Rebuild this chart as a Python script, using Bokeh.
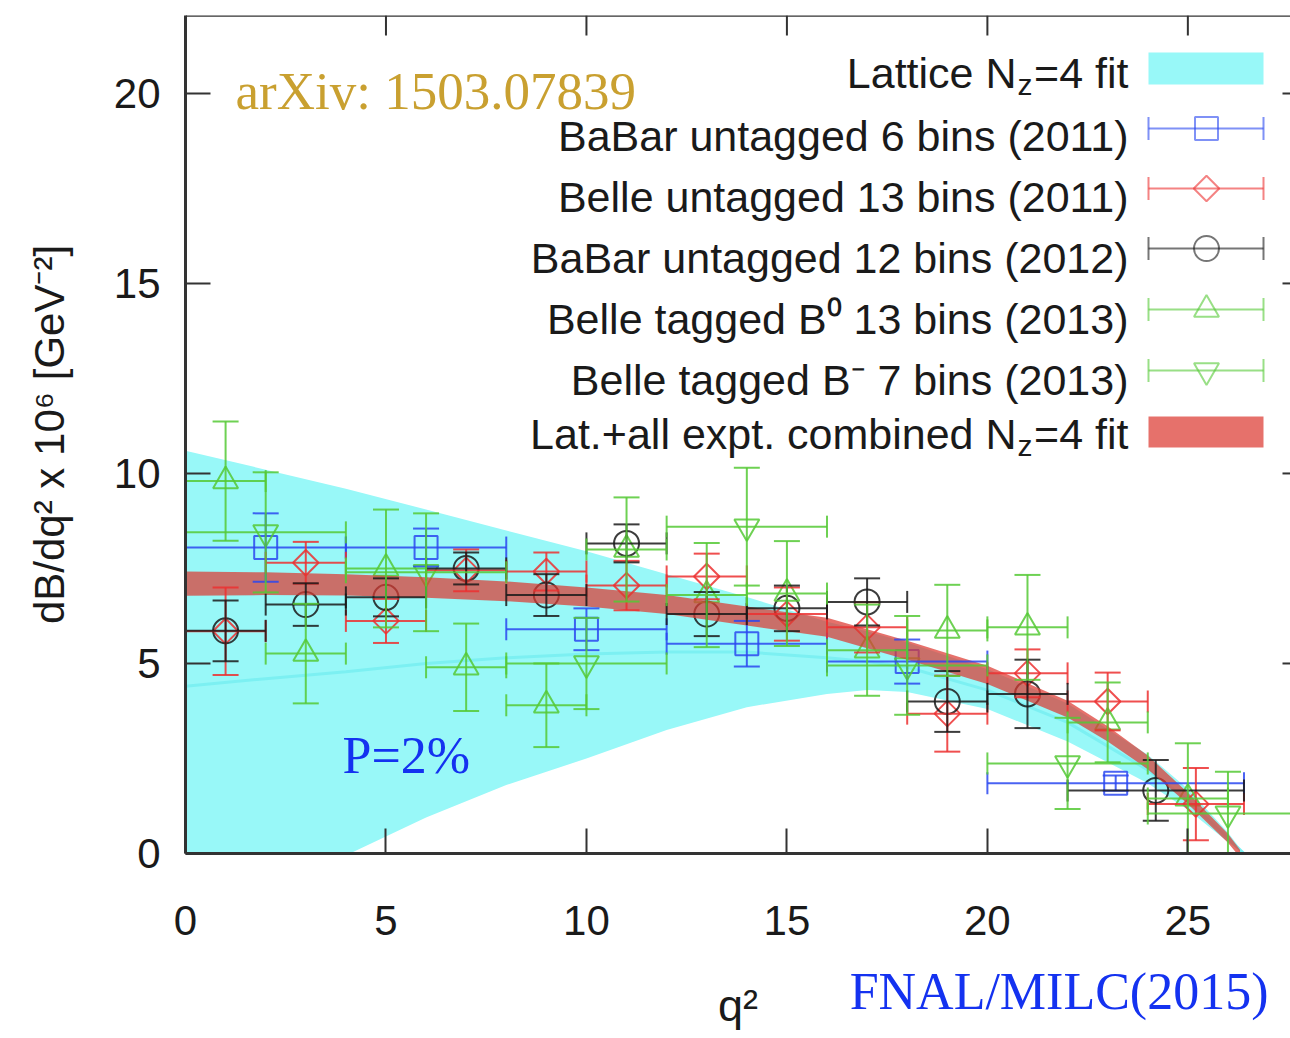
import numpy as np
from bokeh.plotting import figure
from bokeh.models import ColumnDataSource, Whisker, TeeHead, Label, FixedTicker, Range1d, Span, Title
from bokeh.embed import file_html
from bokeh.resources import INLINE

# ---------------- data ----------------
# Lattice N_z=4 fit band (cyan)
lat_q2 = [0, 2, 4, 6, 8, 10, 12, 14, 16, 17, 18, 20, 22, 24, 25, 26, 26.4]
lat_upper = [10.6, 10.1, 9.6, 9.05, 8.5, 7.95, 7.35, 6.75, 6.1, 5.85, 5.55, 4.85, 3.95, 2.6, 1.7, 0.55, 0.0]
lat_lower = [-1.8, -0.9, -0.05, 0.95, 1.8, 2.5, 3.25, 3.85, 4.2, 4.3, 4.25, 3.8, 2.95, 1.85, 1.15, 0.3, 0.0]
lat_central = [4.4, 4.6, 4.78, 5.0, 5.15, 5.25, 5.3, 5.3, 5.15, 5.05, 4.9, 4.3, 3.45, 2.2, 1.4, 0.4, 0.0]

# Lat.+all expt. combined N_z=4 fit band (red)
comb_q2 = [0, 2, 4, 6, 8, 10, 12, 14, 16, 18, 20, 22, 23, 24, 25, 26, 26.3]
comb_center = [7.1, 7.1, 7.07, 7.0, 6.9, 6.75, 6.55, 6.25, 5.95, 5.35, 4.7, 3.8, 3.15, 2.4, 1.45, 0.4, 0.0]
comb_halfwidth = [0.32, 0.3, 0.28, 0.27, 0.26, 0.25, 0.25, 0.25, 0.25, 0.25, 0.24, 0.22, 0.2, 0.18, 0.15, 0.12, 0.1]

# BaBar untagged 6 bins (2011)
babar11_lo = [0, 4, 8, 12, 16, 20]
babar11_hi = [4, 8, 12, 16, 20, 26.4]
babar11_y = [8.05, 8.05, 5.9, 5.52, 5.05, 1.85]
babar11_err = [0.9, 0.5, 0.55, 0.6, 0.58, 0.2]

# Belle untagged 13 bins (2011)
belle11_lo = [0, 2, 4, 6, 8, 10, 12, 14, 16, 18, 20, 22, 24]
belle11_hi = [2, 4, 6, 8, 10, 12, 14, 16, 18, 20, 22, 24, 26.4]
belle11_y = [5.85, 7.65, 6.12, 7.45, 7.42, 7.05, 7.29, 6.3, 5.95, 3.68, 4.74, 4.0, 1.3]
belle11_err = [1.15, 0.55, 0.58, 0.55, 0.5, 0.65, 0.6, 0.7, 0.66, 1.0, 0.63, 0.76, 0.95]

# BaBar untagged 12 bins (2012)
babar12_lo = [0, 2, 4, 6, 8, 10, 12, 14, 16, 18, 20, 22]
babar12_hi = [2, 4, 6, 8, 10, 12, 14, 16, 18, 20, 22, 26.4]
babar12_y = [5.86, 6.55, 6.74, 7.5, 6.8, 8.16, 6.3, 6.45, 6.62, 4.0, 4.2, 1.66]
babar12_err = [0.8, 0.56, 0.5, 0.42, 0.55, 0.5, 0.58, 0.6, 0.62, 0.8, 0.9, 0.8]

# Belle tagged B0 13 bins (2013)
belleB0_lo = [0, 2, 4, 6, 8, 10, 12, 14, 16, 18, 20, 22, 24]
belleB0_hi = [2, 4, 6, 8, 10, 12, 14, 16, 18, 20, 22, 24, 26]
belleB0_y = [9.8, 5.26, 7.5, 4.9, 3.9, 8.0, 6.8, 6.84, 5.35, 5.87, 5.95, 3.45, 1.45]
belleB0_err = [1.57, 1.31, 1.55, 1.15, 1.1, 1.37, 1.37, 1.38, 1.2, 1.2, 1.38, 1.05, 1.45]

# Belle tagged B- 7 bins (2013)
belleBm_lo = [0, 4, 8, 12, 16, 20, 24]
belleBm_hi = [4, 8, 12, 16, 20, 24, 28]
belleBm_y = [8.45, 7.4, 5.0, 8.6, 4.95, 2.37, 1.05]
belleBm_err = [1.58, 1.55, 1.2, 1.55, 1.3, 1.2, 1.1]

x_ticks = [0, 5, 10, 15, 20, 25]
y_ticks = [0, 5, 10, 15, 20]

legend_labels = [
    "BaBar untagged 6 bins (2011)",
    "Belle untagged 13 bins (2011)",
    "BaBar untagged 12 bins (2012)",
    "Belle tagged B\u2070 13 bins (2013)",
    "Belle tagged B\u207b 7 bins (2013)",
]

# ---------------- layout / style ----------------
W, H = 1290, 1038
X_MAX = 27.56
Y_MAX = 22.05
FL, FR, FT, FB = 185, 1290, 15, 853   # frame edges in page pixels
PXX = (FR - FL) / X_MAX
PXY = (FB - FT) / Y_MAX

def dx(px):
    return (px - FL) / PXX

def dy(py):
    return (FB - py) / PXY

CYAN = "#98f8f8"
BLUE = "#2a48f0"
RED = "#ec3030"
BLACK = "#1a1a1a"
GREEN = "#55c935"
SANS = "Liberation Sans"
SERIF = "Liberation Serif"

p = figure(width=W, height=H, output_backend="svg", toolbar_location=None,
           x_range=Range1d(0, X_MAX), y_range=Range1d(0, Y_MAX),
           min_border_left=FL, min_border_right=0, min_border_top=FT,
           min_border_bottom=H - FB)
p.outline_line_color = None
p.xgrid.visible = False
p.ygrid.visible = False
p.background_fill_color = "white"

for ax, ticks in ((p.xaxis, x_ticks), (p.yaxis, y_ticks)):
    ax.ticker = FixedTicker(ticks=ticks)
    ax.major_tick_in = 25
    ax.major_tick_out = 0
    ax.minor_tick_line_color = None
    ax.major_tick_line_color = "#333333"
    ax.major_tick_line_width = 2
    ax.axis_line_color = "#333333"
    ax.axis_line_width = 3
    ax.major_label_text_font = SANS
    ax.major_label_text_font_size = "42px"
    ax.major_label_text_color = "#1a1a1a"
    ax.axis_label_text_font = SANS
    ax.axis_label_text_font_style = "normal"
    ax.axis_label_text_color = "#1a1a1a"

p.xaxis.major_label_standoff = 52
p.xaxis.axis_label = "q\u00b2"
p.xaxis.axis_label_text_font_size = "45px"
p.xaxis.axis_label_standoff = 42
p.yaxis.major_label_standoff = 25
p.yaxis.axis_label = "dB/dq\u00b2 x 10\u2076 [GeV\u207b\u00b2]"
p.yaxis.axis_label_text_font_size = "42px"
p.yaxis.axis_label_standoff = 38

# credit line under the plot, on the right, level with the axis title
p.add_layout(Title(text="FNAL/MILC(2015)", align="right", vertical_align="top",
                   offset=22, standoff=-142, text_font=SERIF, text_font_size="52px",
                   text_font_style="normal", text_color="#1432f0"), "below")

# top border and mirrored ticks
p.add_layout(Span(location=Y_MAX, dimension="width", line_color="#333333", line_width=2.5))
p.segment(x0=x_ticks[1:], y0=[Y_MAX] * 5, x1=x_ticks[1:], y1=[Y_MAX - 20 / PXY] * 5,
          line_color="#333333", line_width=2)
p.segment(x0=[X_MAX - 8 / PXX] * 4, y0=y_ticks[1:], x1=[X_MAX] * 4, y1=y_ticks[1:],
          line_color="#333333", line_width=2)

# lattice band
p.varea(x=lat_q2, y1=lat_lower, y2=lat_upper, fill_color=CYAN)
p.line(lat_q2, lat_central, line_color="#7cf0f2", line_width=3)


def add_series(lo, hi, y, err, color, marker, size, angle=0.0):
    x = [(a + b) / 2 for a, b in zip(lo, hi)]
    src = ColumnDataSource(dict(x=x, lo=lo, hi=hi, y=y,
                                ylo=[v - e for v, e in zip(y, err)],
                                yhi=[v + e for v, e in zip(y, err)]))
    kw = dict(line_color=color, line_width=2, line_alpha=0.85)
    p.add_layout(Whisker(source=src, base="y", lower="lo", upper="hi", dimension="width",
                         level="glyph",
                         lower_head=TeeHead(size=22, **kw), upper_head=TeeHead(size=22, **kw), **kw))
    p.add_layout(Whisker(source=src, base="x", lower="ylo", upper="yhi", dimension="height",
                         level="glyph",
                         lower_head=TeeHead(size=26, **kw), upper_head=TeeHead(size=26, **kw), **kw))
    p.scatter("x", "y", source=src, marker=marker, size=size, angle=angle,
              fill_color=None, line_color=color, line_width=2, line_alpha=0.85)


series = [
    (babar11_lo, babar11_hi, babar11_y, babar11_err, BLUE, "square", 23, 0.0),
    (belle11_lo, belle11_hi, belle11_y, belle11_err, RED, "square", 18, np.pi / 4),
    (babar12_lo, babar12_hi, babar12_y, babar12_err, BLACK, "circle", 25, 0.0),
    (belleB0_lo, belleB0_hi, belleB0_y, belleB0_err, GREEN, "triangle", 25, 0.0),
    (belleBm_lo, belleBm_hi, belleBm_y, belleBm_err, GREEN, "inverted_triangle", 25, 0.0),
]
for s in series:
    add_series(*s)

# combined fit band (on top, semi-transparent)
comb_lo = [c - h for c, h in zip(comb_center, comb_halfwidth)]
comb_hi = [c + h for c, h in zip(comb_center, comb_halfwidth)]
p.varea(x=comb_q2, y1=comb_lo, y2=comb_hi, fill_color="#dc3a32", fill_alpha=0.72)

# ---------------- legend (drawn by hand, gnuplot style) ----------------
row_y = [68, 128, 188, 248, 309, 370, 431]
text_y = [72, 135, 196, 257, 318, 379, 433]
TXT_R = 1128
leg_font = "43px"

def lab(text, px, py, align="right", size=leg_font, font=SANS, color="#1a1a1a"):
    p.add_layout(Label(x=dx(px), y=dy(py), text=text, text_align=align,
                       text_baseline="middle", text_font=font,
                       text_font_size=size, text_color=color))

# row 0 : lattice band sample
p.quad(left=[dx(1148)], right=[dx(1263)], top=[dy(52)], bottom=[dy(84)], fill_color=CYAN, line_color=None)
lab("=4 fit", TXT_R, text_y[0])
lab("z", TXT_R - 96, text_y[0] + 12, size="30px")
lab("Lattice N", TXT_R - 112, text_y[0])

# rows 1..5 : data series samples
for i, (s, text) in enumerate(zip(series, legend_labels)):
    color, marker, size, angle = s[4], s[5], s[6], s[7]
    yy = dy(row_y[i + 1])
    src = ColumnDataSource(dict(x=[dx(1206)], lo=[dx(1148)], hi=[dx(1263)], y=[yy]))
    kw = dict(line_color=color, line_width=2, line_alpha=0.6)
    p.add_layout(Whisker(source=src, base="y", lower="lo", upper="hi", dimension="width",
                         level="glyph",
                         lower_head=TeeHead(size=23, **kw), upper_head=TeeHead(size=23, **kw), **kw))
    p.scatter("x", "y", source=src, marker=marker, size=size, angle=angle,
              fill_color=None, line_color=color, line_width=2, line_alpha=0.6)
    lab(text, TXT_R, text_y[i + 1])

# row 6 : combined band sample
p.quad(left=[dx(1148)], right=[dx(1263)], top=[dy(416)], bottom=[dy(447)],
       fill_color="#dc3a32", fill_alpha=0.72, line_color=None)
lab("=4 fit", TXT_R, text_y[6])
lab("z", TXT_R - 96, text_y[6] + 12, size="30px")
lab("Lat.+all expt. combined N", TXT_R - 112, text_y[6])

# ---------------- annotations ----------------
lab("arXiv: 1503.07839", 235, 90, align="left", size="53px", font=SERIF, color="#c9a030")
lab("P=2%", 342, 755, align="left", size="52px", font=SERIF, color="#1432f0")

open("out.html", "w").write(file_html(p, INLINE))
